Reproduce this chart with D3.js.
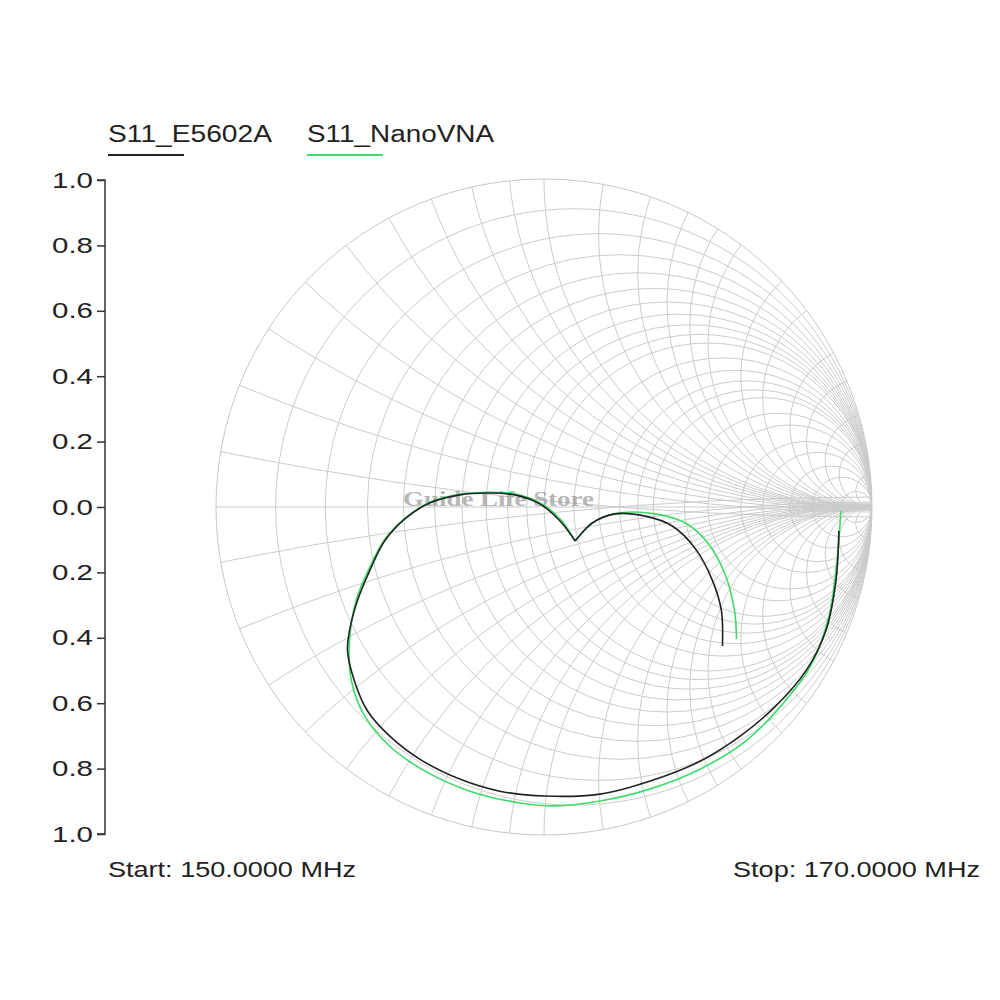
<!DOCTYPE html>
<html>
<head>
<meta charset="utf-8">
<script src="https://cdn.jsdelivr.net/npm/d3@7"></script>
<style>
body { margin: 0; background: #fff; }
text { font-family: "Liberation Sans", Arial, sans-serif; }
</style>
</head>
<body>
<svg id="chart" width="1000" height="1000"></svg>
<script>
// reflection coefficient points (gx, gy), gy positive = upper half
const e5602a = [
  [.544,-.425],[.541,-.318],[.514,-.226],[.462,-.128],[.391,-.058],[.309,-.028],[.217,-.021],
  [.147,-.049],[.095,-.104],[.049,-.043],[-.012,.009],[-.089,.037],[-.165,.043],[-.257,.037],
  [-.349,.012],[-.425,-.037],[-.486,-.104],[-.532,-.196],[-.569,-.287],[-.593,-.379],[-.599,-.440],
  [-.578,-.532],[-.538,-.624],[-.471,-.700],[-.379,-.771],[-.257,-.832],[-.135,-.869],[.003,-.884],
  [.171,-.878],[.324,-.838],[.477,-.777],[.599,-.700],[.706,-.609],[.798,-.502],[.859,-.379],
  [.890,-.226],[.899,-.073]
]
const nanovna = [
  [.587,-.404],[.581,-.318],[.554,-.211],[.502,-.113],[.431,-.049],[.339,-.021],[.232,-.018],
  [.156,-.043],[.095,-.104],[.052,-.040],[-.010,.012],[-.087,.040],[-.163,.045],[-.255,.040],
  [-.347,.015],[-.423,-.034],[-.486,-.100],[-.534,-.190],[-.572,-.283],[-.593,-.410],[-.587,-.532],
  [-.547,-.639],[-.471,-.731],[-.364,-.807],[-.226,-.869],[-.073,-.905],[.034,-.914],[.171,-.899],
  [.324,-.862],[.477,-.801],[.615,-.716],[.722,-.609],[.813,-.486],[.869,-.333],[.893,-.165],
  [.905,-.012]
]
const cuspIndex = 8
const rValues = [0.1,0.2,0.3,0.4,0.5,0.6,0.7,0.8,0.9,1,1.2,1.4,1.6,1.8,2,2.5,3,4,5,7,10,20]
const xValues = [0.1,0.2,0.3,0.4,0.5,0.6,0.7,0.8,0.9,1,1.2,1.4,1.6,1.8,2,2.5,3,4,5,7,10,20]
const yTicks = [1.0,0.8,0.6,0.4,0.2,0.0,-0.2,-0.4,-0.6,-0.8,-1.0]
const seriesNames = ["S11_E5602A","S11_NanoVNA"]
const seriesColors = ["#222","#3ddc6a"]

const svg = d3.select("#chart")
const xS = d3.scaleLinear().domain([-1,1]).range([216,872])
const yS = d3.scaleLinear().domain([1,-1]).range([180,834])
const R = xS(1)-xS(0)

svg.append("clipPath").attr("id","unit")
  .append("circle").attr("cx",xS(0)).attr("cy",yS(0)).attr("r",R)

const grid = svg.append("g").attr("clip-path","url(#unit)")
  .attr("fill","none").attr("stroke","#cbcbcb").attr("stroke-width",1)
// constant resistance circles
rValues.forEach(r => {
  grid.append("circle")
    .attr("cx",xS(r/(1+r))).attr("cy",yS(0)).attr("r",R/(1+r))
})
// constant reactance arcs
xValues.forEach(x => {
  [1,-1].forEach(s => {
    grid.append("circle")
      .attr("cx",xS(1)).attr("cy",yS(s/x)).attr("r",R/x)
  })
})
grid.append("line").attr("x1",xS(-1)).attr("x2",xS(1)).attr("y1",yS(0)).attr("y2",yS(0))
svg.append("circle").attr("cx",xS(0)).attr("cy",yS(0)).attr("r",R)
  .attr("fill","none").attr("stroke","#c8c8c8")

// y axis (magnitude labels)
const axis = d3.axisLeft(yS).tickValues(yTicks).tickSize(8).tickFormat(d => Math.abs(d).toFixed(1))
const ag = svg.append("g").attr("transform","translate(105,0)").call(axis)
ag.select(".domain").attr("stroke","#333").attr("stroke-width",1.5).attr("d","M-8,180H0V834H-8")
ag.selectAll(".tick line").attr("stroke","#333").attr("stroke-width",1.5)
ag.selectAll(".tick text").attr("font-size",22).attr("fill","#222").attr("x",-12)
  .attr("textLength",41).attr("lengthAdjust","spacingAndGlyphs")
  .style("font-family","'Liberation Sans', Arial, sans-serif")

// watermark
svg.append("text").attr("x",403).attr("y",506)
  .style("font-family","'Liberation Serif', serif").attr("font-weight","bold")
  .attr("font-size",22).attr("fill","#999").attr("opacity",0.7)
  .attr("textLength",191).attr("lengthAdjust","spacingAndGlyphs").text("Guide Life Store")

// smooth on each side of the cusp, sharp corner at the cusp
const line = d3.line().x(d => xS(d[0])).y(d => yS(d[1])).curve(d3.curveCatmullRom)
;[nanovna, e5602a].forEach((data,i) => {
  const col = i === 0 ? seriesColors[1] : seriesColors[0]
  ;[data.slice(0,cuspIndex+1), data.slice(cuspIndex)].forEach(part => {
    svg.append("path").attr("d",line(part)).attr("fill","none")
      .attr("stroke", col).attr("stroke-width",1.6)
  })
})

// legend
const legX = [108,307], legW = [164,187]
seriesNames.forEach((n,i) => {
  svg.append("text").attr("x",legX[i]).attr("y",142).attr("font-size",23).attr("fill","#222")
    .attr("textLength",legW[i]).attr("lengthAdjust","spacingAndGlyphs").text(n)
  svg.append("line").attr("x1",legX[i]).attr("x2",legX[i]+76).attr("y1",155).attr("y2",155)
    .attr("stroke",seriesColors[i]).attr("stroke-width",2)
})

svg.append("text").attr("x",108).attr("y",877).attr("font-size",22).attr("fill","#222")
  .attr("textLength",248).attr("lengthAdjust","spacingAndGlyphs").text("Start: 150.0000 MHz")
svg.append("text").attr("x",733).attr("y",877).attr("font-size",22).attr("fill","#222")
  .attr("textLength",247).attr("lengthAdjust","spacingAndGlyphs").text("Stop: 170.0000 MHz")
</script>
</body>
</html>
